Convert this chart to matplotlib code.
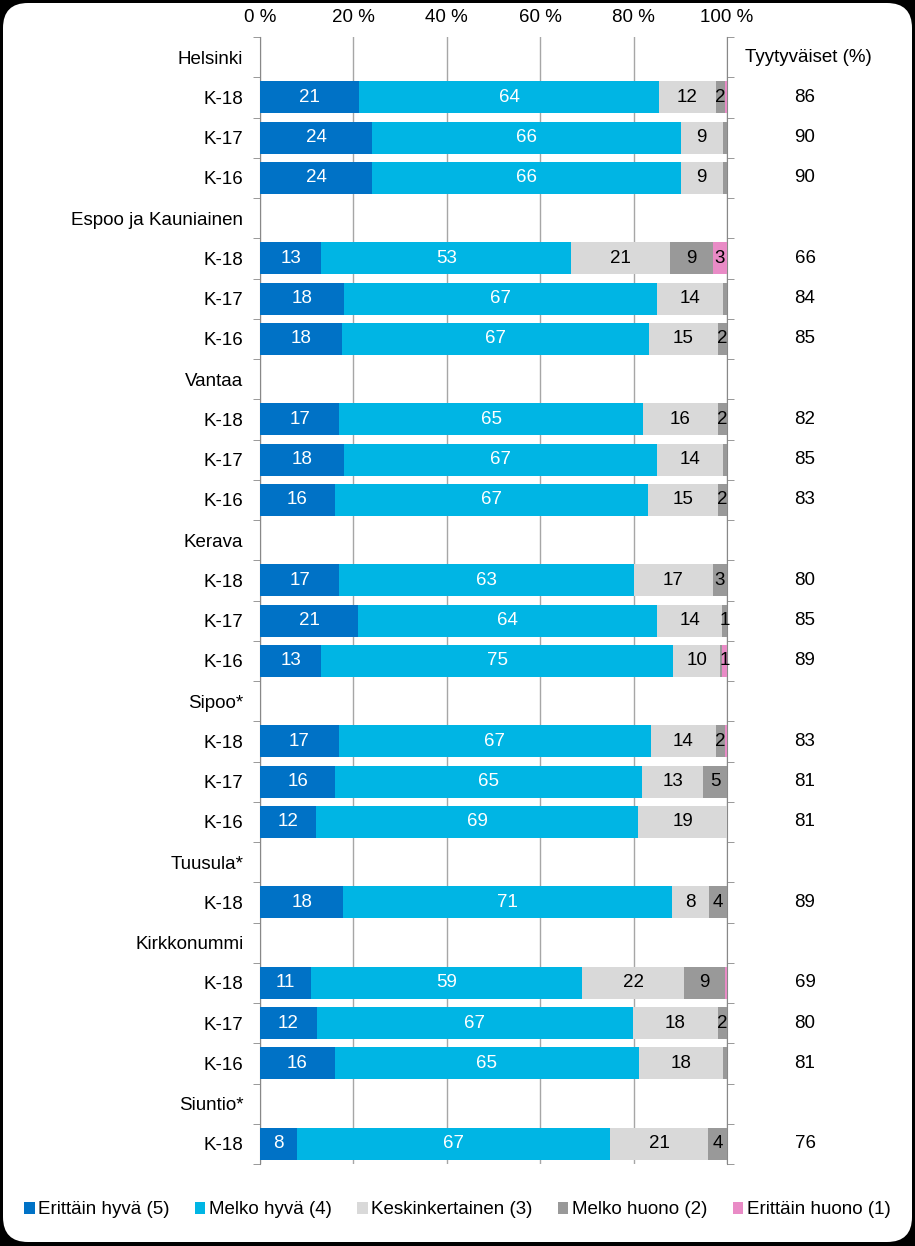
import numpy as np
import matplotlib
matplotlib.use('Agg')
import matplotlib.pyplot as plt
from matplotlib.patches import FancyBboxPatch, Patch
from matplotlib.transforms import IdentityTransform, blended_transform_factory

plt.rcParams['font.family'] = ['Liberation Sans', 'DejaVu Sans']
FS = 13.5

nan = np.nan

rivit = ['Helsinki', 'K-18', 'K-17', 'K-16',
         'Espoo ja Kauniainen', 'K-18', 'K-17', 'K-16',
         'Vantaa', 'K-18', 'K-17', 'K-16',
         'Kerava', 'K-18', 'K-17', 'K-16',
         'Sipoo*', 'K-18', 'K-17', 'K-16',
         'Tuusula*', 'K-18',
         'Kirkkonummi', 'K-18', 'K-17', 'K-16',
         'Siuntio*', 'K-18']

erittain_hyva = [nan, 21, 24, 24, nan, 13, 18, 18, nan, 17, 18, 16, nan, 17, 21, 13,
                 nan, 17, 16, 12, nan, 18, nan, 11, 12, 16, nan, 8]
melko_hyva = [nan, 64, 66, 66, nan, 53, 67, 67, nan, 65, 67, 67, nan, 63, 64, 75,
              nan, 67, 65, 69, nan, 71, nan, 59, 67, 65, nan, 67]
keskinkertainen = [nan, 12, 9, 9, nan, 21, 14, 15, nan, 16, 14, 15, nan, 17, 14, 10,
                   nan, 14, 13, 19, nan, 8, nan, 22, 18, 18, nan, 21]
melko_huono = [nan, 2, 0.9, 0.9, nan, 9, 0.9, 2, nan, 2, 0.9, 2, nan, 3, 1, 0.4,
               nan, 2, 5, 0, nan, 4, nan, 9, 2, 0.9, nan, 4]
erittain_huono = [nan, 0.4, 0, 0, nan, 3, 0, 0, nan, 0, 0, 0, nan, 0, 0, 1,
                  nan, 0.4, 0, 0, nan, 0, nan, 0.4, 0, 0, nan, 0]

tyytyvaiset = [None, 86, 90, 90, None, 66, 84, 85, None, 82, 85, 83, None, 80, 85, 89,
               None, 83, 81, 81, None, 89, None, 69, 80, 81, None, 76]

sarjat = ['Erittäin hyvä (5)', 'Melko hyvä (4)', 'Keskinkertainen (3)',
          'Melko huono (2)', 'Erittäin huono (1)']
varit = ['#0072C6', '#00B5E4', '#D9D9D9', '#999999', '#E98BC6']
tekstivarit = ['white', 'white', 'black', 'black', 'black']

fig = plt.figure(figsize=(9.15, 12.46), dpi=100, facecolor='black')
fig.patches.append(FancyBboxPatch((3, 4), 909, 1239,
                                  boxstyle='round,pad=0,rounding_size=25',
                                  facecolor='white', edgecolor='none',
                                  transform=IdentityTransform(), zorder=-10))

ax = fig.add_axes([260 / 915, 1 - 1164 / 1246, 467 / 915, (1164 - 37) / 1246])
ax.set_facecolor('none')

data = np.array([erittain_hyva, melko_hyva, keskinkertainen, melko_huono, erittain_huono],
                dtype=float)
summa = np.nansum(data, axis=0)
y = np.arange(len(rivit))

# 100 % pinottu: jokainen rivi skaalataan summaansa
vasen = np.zeros(len(rivit))
for i in range(len(sarjat)):
    arvot = data[i]
    osuus = np.where(np.isnan(arvot), 0, arvot / np.where(summa == 0, 1, summa) * 100)
    ax.barh(y, osuus, left=vasen, height=0.8, color=varit[i], zorder=3)
    for j in range(len(rivit)):
        if not np.isnan(arvot[j]) and arvot[j] >= 1:
            ax.text(vasen[j] + osuus[j] / 2, y[j], f'{arvot[j]:.0f}',
                    ha='center', va='center', color=tekstivarit[i], fontsize=FS, zorder=4)
    vasen += osuus

ax.set_xlim(0, 100)
ax.set_ylim(len(rivit) - 0.5, -0.5)
ax.xaxis.tick_top()
ax.set_xticks([0, 20, 40, 60, 80, 100])
ax.set_xticklabels(['0 %', '20 %', '40 %', '60 %', '80 %', '100 %'])
ax.tick_params(axis='x', length=0, pad=8, labelsize=FS)
ax.grid(axis='x', color='#A6A6A6', linewidth=1, zorder=0)

ax.set_yticks(y)
ax.set_yticklabels(rivit)
ax.set_yticks(np.arange(len(rivit) + 1) - 0.5, minor=True)
ax.tick_params(axis='y', which='major', length=0, pad=12, labelsize=FS)
ax.tick_params(axis='y', which='minor', left=True, right=True, length=5,
               direction='out', color='#888888')

for s in ['top', 'bottom']:
    ax.spines[s].set_visible(False)
for s in ['left', 'right']:
    ax.spines[s].set_color('#888888')

tr = blended_transform_factory(fig.transFigure, ax.transData)
ax.text(808 / 915, 0, 'Tyytyväiset (%)', transform=tr, ha='center', va='center', fontsize=FS)
for j, t in enumerate(tyytyvaiset):
    if t is not None:
        ax.text(805 / 915, y[j], str(t), transform=tr, ha='center', va='center', fontsize=FS)

kahvat = [Patch(facecolor=c, edgecolor='none') for c in varit]
fig.legend(kahvat, sarjat, loc='center', bbox_to_anchor=(0.5, 1 - 1210 / 1246),
           ncol=5, frameon=False, fontsize=FS, handlelength=0.55, handleheight=0.55,
           handletextpad=0.2, columnspacing=1.35)

fig.savefig('out.png', dpi=100)
